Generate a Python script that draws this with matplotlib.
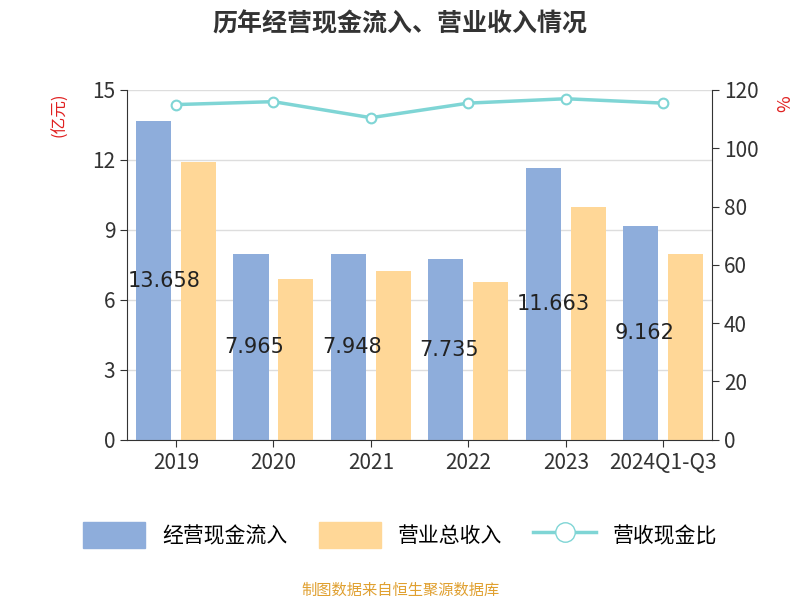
import matplotlib
matplotlib.use("Agg")
import matplotlib.pyplot as plt
from matplotlib.lines import Line2D
from matplotlib.patches import Patch

plt.rcParams["font.family"] = "Noto Sans CJK SC"

categories = ["2019", "2020", "2021", "2022", "2023", "2024Q1-Q3"]
cash_in = [13.658, 7.965, 7.948, 7.735, 11.663, 9.162]
revenue = [11.9, 6.9, 7.25, 6.75, 10.0, 7.95]
ratio = [115, 116, 110.5, 115.5, 117, 115.5]

fig = plt.figure(figsize=(8, 6), dpi=100)
ax = fig.add_axes([0.159, 0.267, 0.731, 0.583])
ax2 = ax.twinx()

x = list(range(len(categories)))
w = 0.36
ax.bar([i - 0.23 for i in x], cash_in, w, color="#8EADDB", zorder=2)
ax.bar([i + 0.23 for i in x], revenue, w, color="#FFD797", zorder=2)
for i, v in enumerate(cash_in):
    ax.text(i - 0.23, v / 2, f"{v:g}" if v != 11.663 else "11.663", ha="left", va="center",
            fontsize=15, color="#222222", zorder=5, transform=ax.transData,
            fontfamily="DejaVu Sans").set_x(i - 0.5)
ax2.plot(x, ratio, color="#7FD5D5", lw=2.5, marker="o", markersize=7,
         markerfacecolor="white", markeredgecolor="#7FD5D5", markeredgewidth=1.5, zorder=3)

ax.set_xlim(-0.5, 5.5)
ax.set_ylim(0, 15)
ax2.set_ylim(0, 120)
ax.set_yticks([0, 3, 6, 9, 12, 15])
ax2.set_yticks(range(0, 121, 20))
ax.set_xticks(x)
ax.set_xticklabels(categories)
ax.grid(axis="y", color="#dddddd", lw=1, zorder=0)
for a in (ax, ax2):
    for s in a.spines.values():
        s.set_visible(False)
    a.tick_params(labelsize=15, colors="#333333", length=5)
ax.spines["left"].set_visible(True)
ax.spines["bottom"].set_visible(True)
ax2.spines["right"].set_visible(True)
ax.spines["left"].set_color("#333333")
ax.spines["bottom"].set_color("#333333")
ax2.spines["right"].set_color("#333333")
ax.set_ylabel("(亿元)", color="#E02020", fontsize=12, labelpad=0)
ax.yaxis.set_label_coords(-0.1, 0.93)
ax2.set_ylabel("%", color="#E02020", fontsize=13, rotation=90)
ax2.yaxis.set_label_coords(1.11, 0.96)

fig.text(0.5, 0.96, "历年经营现金流入、营业收入情况", ha="center", va="center",
         fontsize=18, fontweight="bold", color="#333333")
handles = [Patch(color="#8EADDB"), Patch(color="#FFD797"),
           Line2D([], [], color="#7FD5D5", lw=2.5, marker="o", markersize=14,
                  markerfacecolor="white", markeredgecolor="#7FD5D5")]
fig.legend(handles, ["经营现金流入", "营业总收入", "营收现金比"], loc="center",
           bbox_to_anchor=(0.5, 0.108), ncol=3, frameon=False, fontsize=15,
           handlelength=3, handleheight=1.5, columnspacing=1.5)
fig.text(0.5, 0.017, "制图数据来自恒生聚源数据库", ha="center", va="center",
         fontsize=11, color="#E0A030")
fig.savefig("out.png")
